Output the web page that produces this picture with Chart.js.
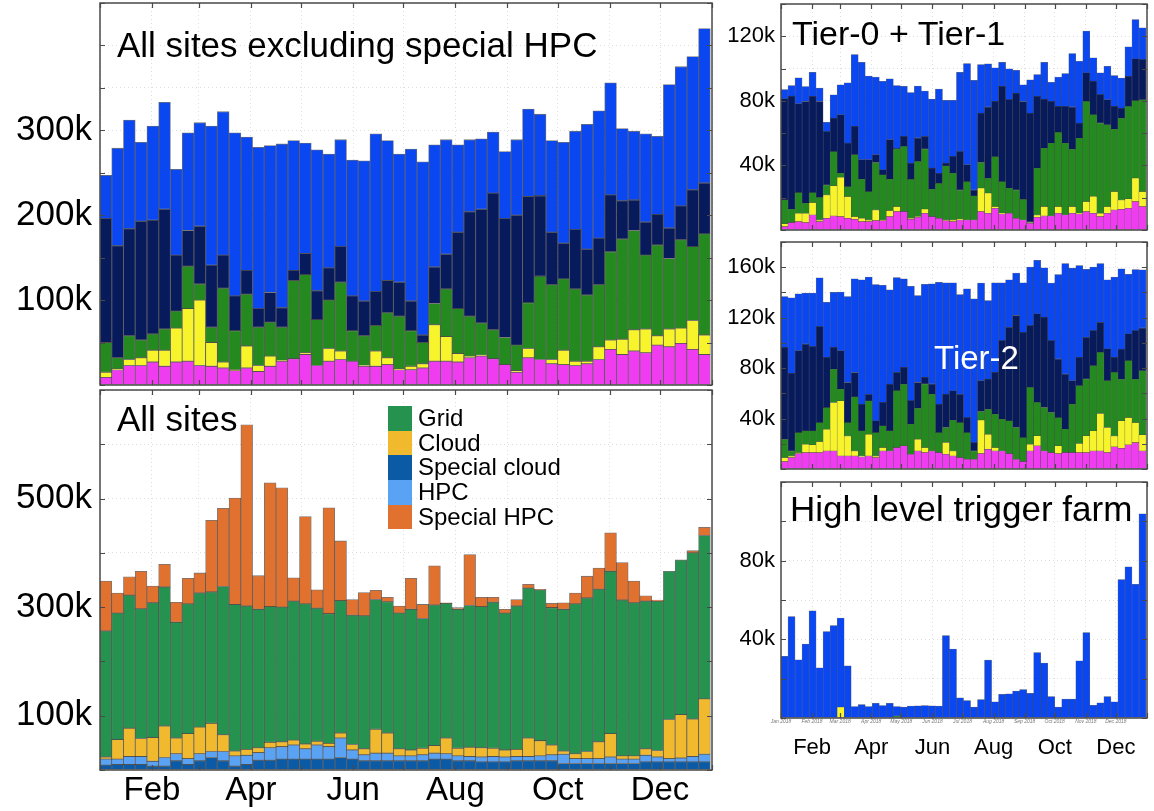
<!DOCTYPE html>
<html>
<head>
<meta charset="utf-8">
<script src="https://cdn.jsdelivr.net/npm/chart.js@4.4.1/dist/chart.umd.min.js"></script>
<style>
  body { margin: 0; width: 1154px; height: 811px; overflow: hidden; background: #fff; position: relative;
         font-family: 'Liberation Sans', Arial, sans-serif; }
  canvas { position: absolute; }
  .title { position: absolute; line-height: 1; white-space: nowrap; color: #000; }
  #legend { position: absolute; left: 388px; top: 406px; }
  .row { display: flex; align-items: center; height: 24.7px; }
  .sw { width: 24px; height: 24.7px; }
  .lab { margin-left: 6px; font-size: 24px; line-height: 24.7px; }
</style>
</head>
<body>
<canvas id="cA" style="left:0;top:-30px" width="730" height="445"></canvas>
<canvas id="cB" style="left:0;top:357px" width="730" height="454"></canvas>
<canvas id="cC" style="left:690px;top:-20px" width="464" height="275"></canvas>
<canvas id="cD" style="left:690px;top:222px" width="464" height="272"></canvas>
<canvas id="cE" style="left:690px;top:462px" width="464" height="349"></canvas>

<div class="title" style="left:117px;top:27px;font-size:35px">All sites excluding special HPC</div>
<div class="title" style="left:117px;top:401px;font-size:35px">All sites</div>
<div class="title" style="left:792px;top:16px;font-size:34px">Tier-0 + Tier-1</div>
<div class="title" style="left:934px;top:341px;font-size:33px;color:#fff">Tier-2</div>
<div class="title" style="left:790px;top:491px;font-size:35px">High level trigger farm</div>
<div id="legend"></div>

<script>
// weekly values in thousands (k), 52 weeks of 2018
const MONTHS = ['Jan', 'Feb', 'Mar', 'Apr', 'May', 'Jun', 'Jul', 'Aug', 'Sep', 'Oct', 'Nov', 'Dec', 'Jan'];
const MONTH_START_DAY = [0, 31, 59, 90, 120, 151, 181, 212, 243, 273, 304, 334, 365];

// All sites excluding special HPC (bottom to top)
const exclMagenta = [9,18,23,23,27,22,27,28,23,22,20,17,20,16,22,28,31,36,23,28,30,28,22,22,24,18,18,20,28,28,27,32,34,31,24,15,32,30,25,24,23,25,30,42,36,40,38,47,45,49,42,36];
const exclYellow  = [6,1,7,9,14,19,40,62,77,28,7,1,26,7,12,1,0,2,0,15,10,0,1,18,8,1,4,5,43,29,10,2,1,0,0,2,11,0,5,17,5,3,15,11,18,25,28,11,21,18,34,23];
const exclGreen   = [35,13,28,21,19,25,20,50,19,18,87,46,61,45,40,39,92,92,54,57,81,36,35,30,53,62,42,25,25,56,53,47,38,34,32,30,54,98,88,84,85,78,73,104,118,117,87,107,83,104,87,119];
const exclNavy    = [146,132,126,140,134,141,66,42,68,73,39,41,28,22,35,23,12,25,34,38,42,41,41,40,38,40,35,9,43,41,90,123,134,161,140,153,125,95,62,42,70,54,55,67,45,36,39,36,36,40,67,60];
const exclBlue    = [51,115,128,93,111,126,101,115,122,164,169,192,157,190,173,193,153,130,166,134,126,160,165,186,165,151,179,204,144,135,103,85,83,72,79,89,103,96,108,119,116,147,150,132,85,81,104,92,169,164,157,182];

// All sites (bottom to top)
const allSpecialCloud = [9,10,10,10,7,7,17,10,17,23,17,7,10,18,18,20,20,20,20,20,23,20,17,17,17,17,17,17,20,20,17,17,15,15,15,17,17,17,17,12,12,12,12,12,12,12,15,15,15,15,15,15];
const allHPC          = [11,10,15,15,9,16,13,11,13,11,17,19,17,14,23,23,26,19,26,23,36,17,11,14,14,9,9,11,11,10,9,8,9,10,9,8,8,9,11,17,9,9,9,12,8,8,12,9,6,7,10,14];
const allCloud        = [4,36,52,33,44,58,29,46,49,52,31,9,11,9,10,9,9,9,7,6,9,10,11,44,37,13,11,12,14,29,14,17,17,15,13,13,34,28,18,6,9,13,31,43,6,6,12,12,72,80,69,102];
const allGrid         = [232,233,245,239,248,256,213,239,247,242,273,270,264,255,250,248,256,258,245,239,244,238,245,239,242,250,259,239,259,248,256,261,260,269,252,264,276,278,253,261,276,283,281,299,287,282,272,275,273,285,306,301];
const allSpecialHPC   = [92,37,34,69,31,42,37,47,37,132,144,196,334,62,228,220,43,161,34,195,110,29,43,17,8,13,57,26,72,1,3,94,17,9,7,12,7,1,8,12,20,40,39,71,69,40,10,2,0,0,4,15];

// Tier-0 + Tier-1
const t01Magenta = [2.1,4.6,5.2,4.6,9.3,5.2,7.2,8.7,8.3,7.2,6.6,5.2,5.2,5.8,5.8,8.3,11.4,11.4,6.6,7.9,10.4,8.3,7.2,5.8,5.2,6.2,6.2,6.2,11.4,10.4,13.5,9.9,10.4,7.2,6.2,4.1,7.9,8.7,8.7,10.4,9.3,10.4,9.9,11.4,10.4,8.3,10.4,12.4,12.8,13.5,17.6,14.5];
const t01Yellow  = [1.7,0,5.2,5.8,7.7,1,14.5,18.6,24.4,13.5,1.7,2.1,1,6.6,0.4,3.7,3.1,0,0.6,0.4,2.5,0,0,0.4,1,0.4,0,0,14.5,12.4,1,0.4,0,0,0,0.4,1.4,5.8,0,4.1,0,4.1,0.4,6.2,10.4,2.1,4.1,11.4,5.8,5.8,14.5,9.3];
const t01Green   = [14.9,8.3,12.8,6.2,6.2,14,6.2,21.3,2.5,6.2,38.3,24.2,17.6,29.4,27.9,19.5,35.6,40.4,24.2,34.2,37.3,17,21.7,33.5,29,18.2,23.8,14.9,15.9,9.3,31,19.7,15.5,17.6,12.8,0.6,29,36.2,45.1,46,44.5,35.6,46.6,62.1,50.7,55.9,50.7,38.7,50.7,57.3,48,56.9];
const t01Navy    = [62.5,70,55,63,59.6,59.4,33,20.7,36.2,26.9,17.6,12,19.7,4.8,3.1,24.4,0.6,6.2,9.9,14.5,7.9,13,6.2,1.7,10.4,23.8,10.4,3.7,30.6,44.1,34.2,59,54.9,60,60.6,67.3,44.5,30.4,25.9,16.1,22.8,26.1,9.3,17.6,20.7,17.6,15.5,14.1,6.2,18.6,25.9,24.8];
const t01Blue    = [5.8,6.6,16,9.3,14.9,8.3,5.8,14.5,18.6,37.3,44.5,60.4,51.8,48.2,54.9,37.7,38.7,31,43.9,32.1,27.9,42.8,52.2,38.9,34.8,49,62.7,67.9,30,26.7,20.7,14.9,19,14.1,10.4,20.7,13.5,22.8,11.8,18.2,20.3,33.1,38.3,25.9,14.5,13.5,20.7,19,18.6,18.2,24.4,19.7];

// Tier-2
const t2Magenta = [5.8,9,12.2,13,13,13,14.3,14.3,10.3,10.3,10.3,9.5,10.3,9,14.3,14.3,17,18.3,11.7,14.3,13,14.3,13,11.7,10.3,9,7.7,7.7,12.2,15.6,14.3,14.3,12.2,7.7,5.8,14.3,18.3,14.3,13,12.2,13,13,13,13,14.3,14.3,13,17.5,16.4,19.1,20.9,14.3];
const t2Yellow  = [3.2,1.3,0.8,6.6,6.1,8.7,17.2,38.4,43.7,15.9,4,0.8,17.2,1.3,2.7,0,0,0,0,9.3,4,0,0,9.3,4,0,0,0,26.5,11.9,2.7,0,0,0,0,5.3,8,0,0,6.1,0,0,7.2,13.3,15.9,29.7,19.9,8.7,21.7,21.7,15.9,12.7];
const t2Green   = [14.6,4,15.9,10.6,11.1,15.1,17.2,26.5,9.3,10.6,42.9,19.9,26.5,18.6,17.2,15.9,45.1,49,23.9,24.6,50.4,45.1,15.9,11.9,24.4,27.8,21.2,6.6,6.9,19.9,26.5,25.2,26,25.2,19.1,45.1,26.5,34.5,31.8,22.5,18.6,38.4,45.8,45.1,51.7,48.5,37.1,50.4,33.1,45.1,34.5,50.9];
const t2Navy    = [72.9,61.5,64.9,68.9,66.8,76.1,39.8,17.2,30.5,31.8,19.3,21.2,5.3,9.3,18.6,37.1,14.6,13.3,18.6,20.4,5.3,8,22.5,26.5,23.3,22.5,11.9,6.6,24.4,23.9,33.1,62.3,74.2,88.8,83.5,49,70.2,71.6,57,46.4,43.7,18.6,22.5,33.1,27.8,23.9,25.2,11.9,23.9,21.2,38.4,33.9];
const t2Blue    = [40.3,59.9,45.1,40.3,42.4,38.7,43.7,43.7,46.4,68.1,74.2,98.6,92.8,108.1,92.8,74.7,75,70.2,90.6,68.9,73.7,79.5,96.7,88.2,85.6,79,102,114,77.4,62.3,71,45.8,37.6,33.7,39.2,46.4,42.4,39.2,45.6,67,87.5,89.3,72.9,53.8,50.4,46.4,54.9,63.6,63.6,47.2,48.5,46.1];

// High level trigger farm
const hltYellow = [0,0,0,0,0,0,0,0,5.5,0,0,0,0,0,0,0,0,0,0,0,0,0,0,0,0,0,0,0,0,0,0,0,0,0,0,0,0,0,0,0,0,0,0,0,0,0,0,0,0,0,0,0];
const hltGreen  = [0,0,0,0,0,0,0,0,0,0,0,0,0,0,0,0,1,0,0,0,0,0,0,0,0,0,0,0,0,0,0,0,0,0,0,0,0,0,0,0,0,0,0,0,0,0,0,0,0,0,0,0];
const hltBlue   = [31.3,51.6,29.6,37.6,54.5,25.5,43.9,47,45.3,26.5,5.8,6.8,5.8,7.5,6.3,7.5,4.8,5.5,6,6.2,6.3,6.2,6,41.9,35,10.3,8.9,5.5,9.4,29.4,8.2,12,12.3,13.7,14.4,12.5,33.3,27.9,10.9,5.5,9.6,9.6,29.1,43.4,6.5,7.7,10.9,8.2,70.4,76.9,68,103.8];

const C = { magenta: '#f03cf0', yellow: '#f8f42c', green: '#248a20', navy: '#071a5c', blue: '#0b47f0' };
const allLegend = [
  { name: 'Grid', color: '#26924f' },
  { name: 'Cloud', color: '#f1b92d' },
  { name: 'Special cloud', color: '#0b5aa5' },
  { name: 'HPC', color: '#5aa2f3' },
  { name: 'Special HPC', color: '#e0712f' }
];
const colorOf = n => allLegend.find(l => l.name === n).color;

Chart.defaults.font.family = "'Liberation Sans', Arial, sans-serif";
Chart.defaults.color = '#000';
const GRID = 'rgba(0,0,0,0.13)';

// week i covers days 7i..7i+6, so its centre sits at i + 0.5 on a week-unit axis
const weekPoints = vals => vals.map((v, i) => ({ x: i + 0.5, y: v }));
const monthTicks = scale => { scale.ticks = MONTH_START_DAY.map(d => ({ value: d / 7 })); };
const bigMonth = (v, i) => (i % 2 === 1 && i < 12) ? MONTHS[i] : '';

// box around the plot with inward tick marks, matlab style
const framePlugin = {
  id: 'frame',
  afterDraw(chart) {
    const { ctx, chartArea: a, scales } = chart;
    const len = 5;
    ctx.save();
    ctx.strokeStyle = '#4a4a4a';
    ctx.lineWidth = 1.2;
    ctx.beginPath();
    scales.y.ticks.forEach(t => {
      const y = Math.round(scales.y.getPixelForValue(t.value)) + 0.5;
      ctx.moveTo(a.left, y); ctx.lineTo(a.left + len, y);
      ctx.moveTo(a.right, y); ctx.lineTo(a.right - len, y);
    });
    scales.x.ticks.forEach(t => {
      const x = Math.round(scales.x.getPixelForValue(t.value)) + 0.5;
      ctx.moveTo(x, a.top); ctx.lineTo(x, a.top + len);
      ctx.moveTo(x, a.bottom); ctx.lineTo(x, a.bottom - len);
    });
    ctx.stroke();
    ctx.lineWidth = 1.5;
    ctx.strokeRect(a.left, a.top, a.right - a.left, a.bottom - a.top);
    ctx.restore();
  }
};

function makePanel(id, sets, o) {
  return new Chart(document.getElementById(id), {
    type: 'bar',
    data: {
      datasets: sets.map(s => ({
        label: s.name,
        data: weekPoints(s.values),
        backgroundColor: s.color,
        borderColor: 'rgba(20,20,20,0.6)',
        borderWidth: o.border,
        borderSkipped: false,
        barPercentage: 1,
        categoryPercentage: 1,
        xAxisID: 'x'
      }))
    },
    options: {
      responsive: false,
      animation: false,
      events: [],
      layout: { padding: { top: o.padTop, right: o.padRight, left: 0, bottom: 0 } },
      plugins: { legend: { display: false }, tooltip: { enabled: false } },
      scales: Object.assign({
        x: {
          type: 'linear', min: 0, max: 365 / 7, stacked: true, offset: false,
          afterBuildTicks: monthTicks,
          afterFit: s => { s.height = o.xHeight; },
          grid: { color: GRID, drawTicks: false, offset: false },
          border: { display: false, dash: [1, 3] },
          ticks: o.xTicks || { display: false }
        },
        y: {
          stacked: true, min: 0, max: o.yMax,
          afterFit: s => { s.width = o.yWidth; },
          grid: { color: GRID, drawTicks: false },
          border: { display: false, dash: [1, 3] },
          ticks: {
            stepSize: o.yStep, autoSkip: false, padding: o.yPad,
            font: { size: o.yFont }, color: '#000',
            callback: v => o.yLabels.includes(v) ? v + 'k' : ''
          }
        }
      }, o.extraScales || {})
    },
    plugins: [framePlugin]
  });
}

const topSets = (m, y, g, n, b) => [
  { name: 'magenta', values: m, color: C.magenta },
  { name: 'yellow', values: y, color: C.yellow },
  { name: 'green', values: g, color: C.green },
  { name: 'navy', values: n, color: C.navy },
  { name: 'blue', values: b, color: C.blue }
];

makePanel('cA', topSets(exclMagenta, exclYellow, exclGreen, exclNavy, exclBlue), {
  yMax: 450, yStep: 50, yLabels: [100, 200, 300], yFont: 35, yPad: 8, yWidth: 100,
  padTop: 33, padRight: 18, xHeight: 30, border: 0.8
});

makePanel('cB', [
  { name: 'Special cloud', values: allSpecialCloud, color: colorOf('Special cloud') },
  { name: 'HPC', values: allHPC, color: colorOf('HPC') },
  { name: 'Cloud', values: allCloud, color: colorOf('Cloud') },
  { name: 'Grid', values: allGrid, color: colorOf('Grid') },
  { name: 'Special HPC', values: allSpecialHPC, color: colorOf('Special HPC') }
], {
  yMax: 700, yStep: 100, yLabels: [100, 300, 500], yFont: 35, yPad: 8, yWidth: 100,
  padTop: 33, padRight: 18, xHeight: 41, border: 0.8,
  xTicks: { display: true, autoSkip: false, maxRotation: 0, padding: 1, font: { size: 33 }, color: '#000', callback: bigMonth }
});

makePanel('cC', topSets(t01Magenta, t01Yellow, t01Green, t01Navy, t01Blue), {
  yMax: 140, yStep: 20, yLabels: [40, 80, 120], yFont: 22, yPad: 6, yWidth: 91,
  padTop: 24, padRight: 7, xHeight: 25, border: 0.5
});

makePanel('cD', topSets(t2Magenta, t2Yellow, t2Green, t2Navy, t2Blue), {
  yMax: 180, yStep: 20, yLabels: [40, 80, 120, 160], yFont: 22, yPad: 6, yWidth: 91,
  padTop: 20, padRight: 7, xHeight: 25, border: 0.5
});

makePanel('cE', [
  { name: 'yellow', values: hltYellow, color: C.yellow },
  { name: 'green', values: hltGreen, color: C.green },
  { name: 'blue', values: hltBlue, color: C.blue }
], {
  yMax: 120, yStep: 20, yLabels: [40, 80], yFont: 22, yPad: 6, yWidth: 91,
  padTop: 20, padRight: 7, xHeight: 12, border: 0.5,
  xTicks: {
    display: true, autoSkip: false, maxRotation: 0, padding: 1,
    font: { size: 5, style: 'italic' }, color: '#777',
    callback: (v, i) => i < 12 ? MONTHS[i] + ' 2018' : ''
  },
  extraScales: {
    x2: {
      type: 'linear', min: 0, max: 365 / 7, position: 'bottom', weight: 1, offset: false,
      afterBuildTicks: monthTicks,
      afterFit: s => { s.height = 81; },
      grid: { display: false, drawTicks: false },
      border: { display: false },
      ticks: { autoSkip: false, maxRotation: 0, padding: 5, font: { size: 22 }, color: '#000', callback: bigMonth }
    }
  }
});

// legend of the "All sites" panel
const legend = document.getElementById('legend');
allLegend.forEach(l => {
  const row = document.createElement('div');
  row.className = 'row';
  row.innerHTML = '<div class="sw" style="background:' + l.color + '"></div><div class="lab">' + l.name + '</div>';
  legend.appendChild(row);
});
</script>
</body>
</html>
